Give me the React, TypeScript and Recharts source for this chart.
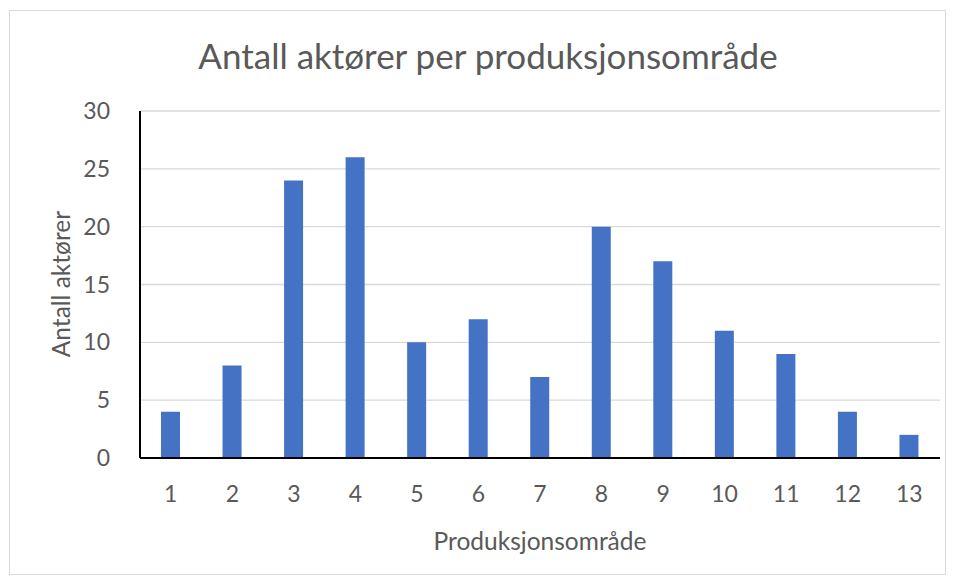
import { BarChart, Bar, XAxis, YAxis, CartesianGrid } from 'recharts'

// Produksjonsområde 1–13 and number of actors in each
const areas = ['1', '2', '3', '4', '5', '6', '7', '8', '9', '10', '11', '12', '13']
const actors = [4, 8, 24, 26, 10, 12, 7, 20, 17, 11, 9, 4, 2]
const yTicks = [0, 5, 10, 15, 20, 25, 30]

const data = areas.map((area, i) => ({ area, actors: actors[i] }))

const font = 'Lato, "Open Sans", sans-serif'
const grey = '#595959'

export default function App() {
  return (
    <div
      style={{
        position: 'absolute',
        left: 0,
        top: 0,
        width: 957,
        height: 581,
        background: '#fff',
        fontFamily: font,
      }}
    >
      <div
        style={{
          position: 'absolute',
          left: 9,
          top: 10,
          width: 937,
          height: 565,
          border: '1px solid #d9d9d9',
          boxSizing: 'border-box',
        }}
      />
      <div
        style={{
          position: 'absolute',
          left: 488,
          top: 55,
          transform: 'translate(-50%, -50%)',
          fontSize: 35,
          color: grey,
          whiteSpace: 'nowrap',
        }}
      >
        Antall aktører per produksjonsområde
      </div>
      <div
        style={{
          position: 'absolute',
          left: 60,
          top: 284,
          transform: 'translate(-50%, -50%) rotate(-90deg)',
          fontSize: 24.5,
          color: grey,
          whiteSpace: 'nowrap',
        }}
      >
        Antall aktører
      </div>
      <div
        style={{
          position: 'absolute',
          left: 540,
          top: 540,
          transform: 'translate(-50%, -50%)',
          fontSize: 24.5,
          color: grey,
          whiteSpace: 'nowrap',
        }}
      >
        Produksjonsområde
      </div>
      <BarChart
        width={957}
        height={581}
        data={data}
        margin={{ top: 111, right: 17, bottom: 93, left: 80 }}
      >
        <CartesianGrid vertical={false} stroke="#d9d9d9" strokeWidth={1.3} />
        <XAxis
          dataKey="area"
          height={30}
          tickLine={false}
          axisLine={{ stroke: '#000', strokeWidth: 2 }}
          tick={{ fill: grey, fontSize: 23, fontFamily: font }}
          tickMargin={22}
        />
        <YAxis
          width={60}
          domain={[0, 30]}
          ticks={yTicks}
          tickLine={false}
          axisLine={{ stroke: '#000', strokeWidth: 2 }}
          tick={{ fill: grey, fontSize: 23, fontFamily: font }}
          tickMargin={24}
          interval={0}
        />
        <Bar dataKey="actors" fill="#4472C4" barSize={19} isAnimationActive={false} />
      </BarChart>
    </div>
  )
}
